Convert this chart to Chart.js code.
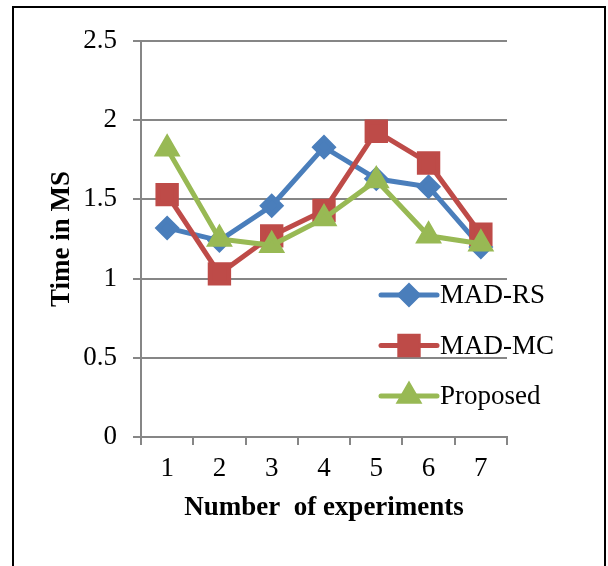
<!DOCTYPE html>
<html lang="en">
<head>
    <meta charset="UTF-8">
    <title>Time in MS</title>
    <style>
        body {
            margin: 0;
            width: 608px;
            height: 566px;
            overflow: hidden;
            background: #fff;
            position: relative;
        }
        .frame {
            position: absolute;
            left: 12px;
            top: 6px;
            width: 590px;
            height: 600px;
            border: 2px solid #000;
        }
        #chartBox {
            position: absolute;
            left: 0;
            top: 0;
            width: 608px;
            height: 566px;
        }
    </style>
</head>
<body>
    <div class="frame"></div>
    <div id="chartBox"><canvas id="timeChart" width="608" height="566"></canvas></div>

    <script src="https://cdn.jsdelivr.net/npm/chart.js"></script>
    <script>
        const experiments = ['1', '2', '3', '4', '5', '6', '7'];
        const madRS = [1.32, 1.24, 1.46, 1.83, 1.63, 1.58, 1.20];
        const madMC = [1.53, 1.03, 1.27, 1.43, 1.93, 1.73, 1.28];
        const proposed = [1.82, 1.25, 1.21, 1.38, 1.62, 1.27, 1.22];

        const serif = "'Liberation Serif', 'Times New Roman', serif";

        // legend drawn inside the plot, line sample with marker in the middle
        const insideLegend = {
            id: 'insideLegend',
            afterDatasetsDraw(chart) {
                const ctx = chart.ctx;
                const x0 = 381, x1 = 437;
                const rows = [295, 345.5, 396];
                chart.data.datasets.forEach((ds, i) => {
                    const y = rows[i];
                    ctx.save();
                    ctx.strokeStyle = ds.borderColor;
                    ctx.lineWidth = ds.borderWidth;
                    ctx.lineCap = 'round';
                    ctx.beginPath();
                    ctx.moveTo(x0, y);
                    ctx.lineTo(x1, y);
                    ctx.stroke();
                    Chart.helpers.drawPoint(ctx, {
                        pointStyle: ds.pointStyle,
                        radius: ds.pointRadius,
                        borderWidth: 1
                    }, (x0 + x1) / 2, y);
                    ctx.fillStyle = ds.pointBackgroundColor;
                    ctx.fill();
                    ctx.fillStyle = '#000';
                    ctx.font = '27px ' + serif;
                    ctx.textBaseline = 'middle';
                    ctx.fillText(ds.label, x1 + 3, y + 1);
                    ctx.restore();
                });
            }
        };

        new Chart(document.getElementById('timeChart'), {
            type: 'line',
            data: {
                labels: experiments,
                datasets: [{
                    label: 'MAD-RS',
                    data: madRS,
                    borderColor: '#4A7EBB',
                    backgroundColor: '#4A7EBB',
                    pointBackgroundColor: '#4A7EBB',
                    pointBorderColor: '#4A7EBB',
                    borderWidth: 5,
                    pointStyle: 'rectRot',
                    pointRadius: 9,
                    order: 2
                }, {
                    label: 'MAD-MC',
                    data: madMC,
                    borderColor: '#BE4B48',
                    backgroundColor: '#BE4B48',
                    pointBackgroundColor: '#BE4B48',
                    pointBorderColor: '#BE4B48',
                    borderWidth: 5,
                    pointStyle: 'rect',
                    pointRadius: 13,
                    order: 1
                }, {
                    label: 'Proposed',
                    data: proposed,
                    borderColor: '#98B954',
                    backgroundColor: '#98B954',
                    pointBackgroundColor: '#98B954',
                    pointBorderColor: '#98B954',
                    borderWidth: 5,
                    pointStyle: 'triangle',
                    pointRadius: 10.5,
                    order: 0
                }]
            },
            options: {
                responsive: false,
                animation: false,
                layout: {
                    padding: { left: 0, right: 101, top: 41, bottom: 0 }
                },
                plugins: {
                    legend: { display: false },
                    tooltip: { enabled: false }
                },
                scales: {
                    x: {
                        offset: true,
                        grid: {
                            offset: true,
                            drawOnChartArea: false,
                            color: '#868686',
                            tickLength: 8,
                            lineWidth: 2
                        },
                        border: { color: '#868686', width: 2 },
                        ticks: {
                            color: '#000',
                            padding: 8,
                            maxRotation: 0,
                            font: { family: serif, size: 27 }
                        },
                        title: {
                            display: true,
                            text: 'Number  of experiments',
                            color: '#000',
                            padding: { top: 0, bottom: 42 },
                            font: { family: serif, size: 27, weight: 'bold' }
                        },
                        afterFit(scale) { scale.height = 129; }
                    },
                    y: {
                        min: 0,
                        max: 2.5,
                        ticks: {
                            stepSize: 0.5,
                            color: '#000',
                            padding: 16,
                            font: { family: serif, size: 27 },
                            callback: (v) => String(v)
                        },
                        grid: {
                            color: '#868686',
                            tickLength: 8,
                            lineWidth: 2
                        },
                        border: { color: '#868686', width: 2 },
                        title: {
                            display: true,
                            text: 'Time in MS',
                            color: '#000',
                            padding: { top: 46, bottom: 0 },
                            font: { family: serif, size: 27, weight: 'bold' }
                        },
                        afterFit(scale) { scale.width = 141; }
                    }
                }
            },
            plugins: [insideLegend]
        });
    </script>
</body>
</html>
